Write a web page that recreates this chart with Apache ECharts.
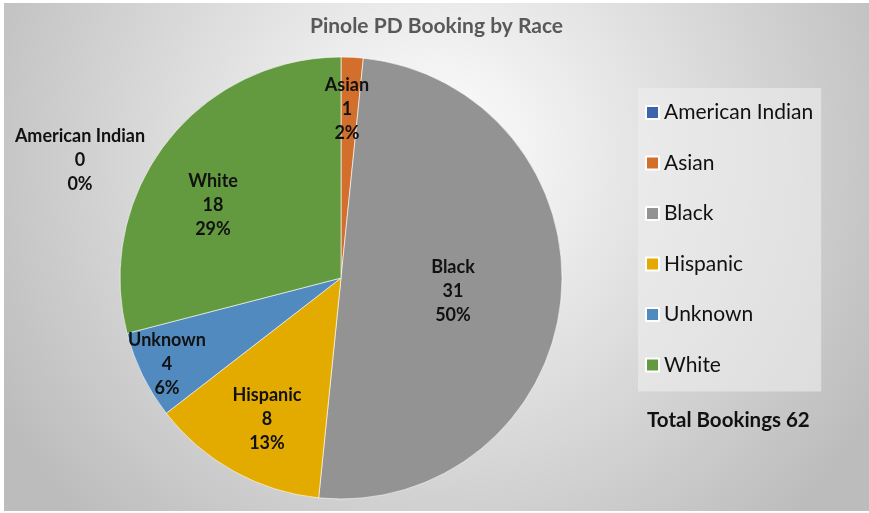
<!DOCTYPE html>
<html>
<head>
<meta charset="utf-8">
<script src="https://cdn.jsdelivr.net/npm/echarts@6/dist/echarts.min.js"></script>
<style>
    html, body { margin: 0; padding: 0; background: #fff; }
    #chart_main { position: absolute; left: 4px; top: 3px; width: 865px; height: 508px; }
</style>
</head>
<body>
<div id="chart_main"></div>
<script>
// 数据
var aCategories = ["American Indian", "Asian", "Black", "Hispanic", "Unknown", "White"];
var aValues = [0, 1, 31, 8, 4, 18];
var aColors = ["#3c65ae", "#d36f2c", "#939393", "#e3ab00", "#518abe", "#649a3f"];
var iTotal = aValues.reduce(function (a, b) { return a + b; }, 0);

// 标签相对于圆心的偏移 (px)
var aLabelOffset = [[-261, -118], [6, -169], [112, 13], [-74, 141], [-174, 86], [-128, -73]];
var aCenter = [337, 275];

var aData = aCategories.map(function (name, i) {
    return { name: name, value: aValues[i], itemStyle: { color: aColors[i] } };
});

var myChart = echarts.init(document.getElementById("chart_main"), null, { renderer: "canvas" });
var option = {
    backgroundColor: {
        type: "radial", x: 0.5, y: 0.3, r: 1.0,
        colorStops: [
            { offset: 0, color: "#ffffff" },
            { offset: 1, color: "#bcbcbc" }
        ]
    },
    animation: false,
    title: [{
        text: "Pinole PD Booking by Race",
        left: "center",
        top: 13,
        padding: 0,
        textStyle: { fontFamily: "Lato", fontSize: 21, fontWeight: "bold", color: "#595959" }
    }, {
        text: "Total Bookings " + iTotal,
        left: 643,
        top: 407,
        padding: 0,
        textStyle: { fontFamily: "Lato", fontSize: 20.5, fontWeight: "bold", color: "#111" }
    }],
    legend: {
        orient: "vertical",
        left: 634,
        top: 85,
        padding: [14, 8, 16, 7],
        itemWidth: 13,
        itemHeight: 13,
        itemGap: 29.5,
        icon: "rect",
        backgroundColor: "rgba(238,238,238,0.6)",
        textStyle: { fontFamily: "Lato", fontSize: 21, color: "#111", lineHeight: 20 },
        data: aCategories
    },
    series: [{
        type: "pie",
        center: aCenter,
        radius: 221,
        startAngle: 90,
        clockwise: true,
        itemStyle: { borderColor: "#ffffff", borderWidth: 0.6 },
        label: {
            show: true,
            position: "inside",
            fontFamily: "Lato",
            fontSize: 18,
            fontWeight: "bold",
            color: "#111",
            lineHeight: 24,
            formatter: function (p) {
                return p.name + "\n" + p.value + "\n" + Math.round(p.value / iTotal * 100) + "%";
            }
        },
        labelLine: { show: false },
        labelLayout: function (p) {
            var o = aLabelOffset[p.dataIndex];
            return { x: aCenter[0] + o[0], y: aCenter[1] + o[1], align: "center", verticalAlign: "middle" };
        },
        data: aData
    }]
};
myChart.setOption(option);
</script>
</body>
</html>
